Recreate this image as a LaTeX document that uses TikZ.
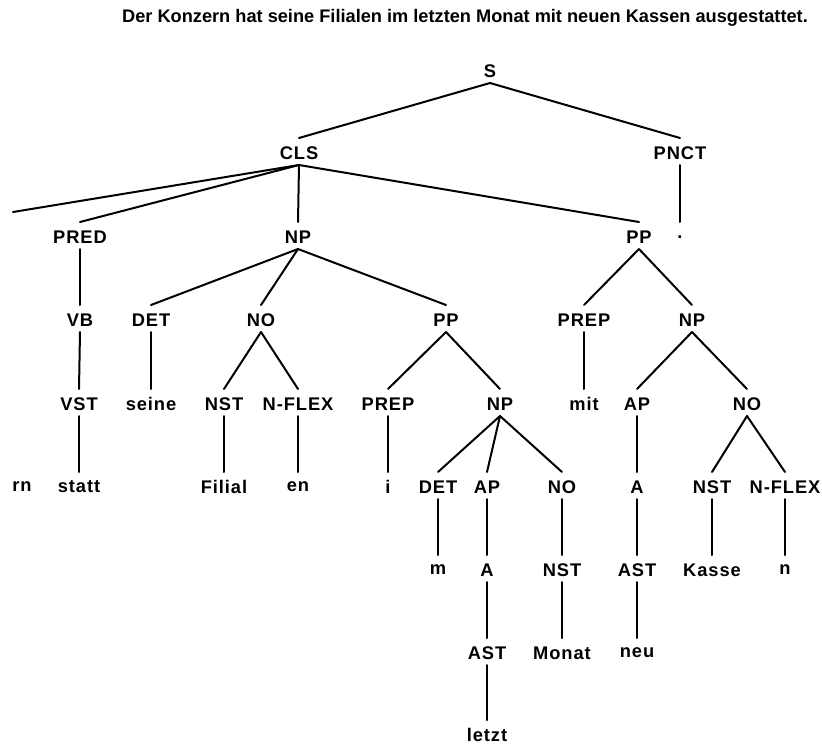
\documentclass[tikz,border=0pt]{standalone}
\usepackage{fontspec}
\setmainfont{Liberation Sans}
\newfontfamily\treefont[LetterSpace=5]{Liberation Sans}
\usetikzlibrary{calc}
\begin{document}
\begin{tikzpicture}[x=1pt,y=-1pt,
  lbl/.style={inner sep=0pt,font=\treefont\bfseries\fontsize{18.3}{21}\selectfont},
  branch/.style={line width=2pt,line cap=round}]
\useasboundingbox[fill=white] (0,0) rectangle (822,747);
% sentence
\node[inner sep=0pt,font=\bfseries\fontsize{18.2}{21}\selectfont] (title) at (465,18) {Der Konzern hat seine Filialen im letzten Monat mit neuen Kassen ausgestattet.};
% tree labels, row by row
\node[lbl] (S) at (490,71) {S};
\node[lbl] (CLS) at (299,153) {CLS};
\node[lbl] (PNCT) at (680,153) {PNCT};
\node[lbl] (PRED) at (80,237) {PRED};
\node[lbl] (NPa) at (298,237) {NP};
\node[lbl] (PPa) at (639,237) {PP};
\node[lbl] (dot) at (680,237) {.};
\node[lbl] (VB) at (80,320) {VB};
\node[lbl] (DETa) at (151,320) {DET};
\node[lbl] (NOa) at (261,320) {NO};
\node[lbl] (PPb) at (446,320) {PP};
\node[lbl] (PREPa) at (584,320) {PREP};
\node[lbl] (NPb) at (692,320) {NP};
\node[lbl] (VST) at (79,404) {VST};
\node[lbl] (seine) at (151,404) {seine};
\node[lbl] (NSTa) at (224,404) {NST};
\node[lbl] (NFLEXa) at (298,404) {N-FLEX};
\node[lbl] (PREPb) at (388,404) {PREP};
\node[lbl] (NPc) at (500,404) {NP};
\node[lbl] (mit) at (584,404) {mit};
\node[lbl] (APa) at (637,404) {AP};
\node[lbl] (NOb) at (747,404) {NO};
\node[lbl] (rn) at (22,487) {rn};
\node[lbl] (statt) at (79,487) {statt};
\node[lbl] (Filial) at (224,487) {Filial};
\node[lbl] (en) at (298,487) {en};
\node[lbl] (i) at (388,487) {i};
\node[lbl] (DETb) at (438,487) {DET};
\node[lbl] (APb) at (487,487) {AP};
\node[lbl] (NOc) at (562,487) {NO};
\node[lbl] (Aa) at (637,487) {A};
\node[lbl] (NSTb) at (712,487) {NST};
\node[lbl] (NFLEXb) at (785,487) {N-FLEX};
\node[lbl] (m) at (438,570) {m};
\node[lbl] (Ab) at (487,570) {A};
\node[lbl] (NSTc) at (562,570) {NST};
\node[lbl] (ASTa) at (637,570) {AST};
\node[lbl] (Kasse) at (712,570) {Kasse};
\node[lbl] (n) at (785,570) {n};
\node[lbl] (ASTb) at (487,653) {AST};
\node[lbl] (Monat) at (562,653) {Monat};
\node[lbl] (neu) at (637,653) {neu};
\node[lbl] (letzt) at (487,735) {letzt};
% branch running out at the left edge
\coordinate (offleft) at (13,212);
\draw[branch] ($(CLS.center)+(0,12)$) -- (offleft);
% branches: parent bottom to child top
\foreach \p/\c in {S/CLS,S/PNCT,CLS/PRED,CLS/NPa,CLS/PPa,PNCT/dot,
  PRED/VB,NPa/DETa,NPa/NOa,NPa/PPb,PPa/PREPa,PPa/NPb,
  VB/VST,DETa/seine,NOa/NSTa,NOa/NFLEXa,PPb/PREPb,PPb/NPc,PREPa/mit,NPb/APa,NPb/NOb,
  VST/statt,NSTa/Filial,NFLEXa/en,PREPb/i,NPc/DETb,NPc/APb,NPc/NOc,APa/Aa,NOb/NSTb,NOb/NFLEXb,
  DETb/m,APb/Ab,NOc/NSTc,Aa/ASTa,NSTb/Kasse,NFLEXb/n,
  Ab/ASTb,NSTc/Monat,ASTa/neu,ASTb/letzt}
  \draw[branch] ($(\p.center)+(0,12)$) -- ($(\c.center)+(0,-15)$);
\end{tikzpicture}
\end{document}
